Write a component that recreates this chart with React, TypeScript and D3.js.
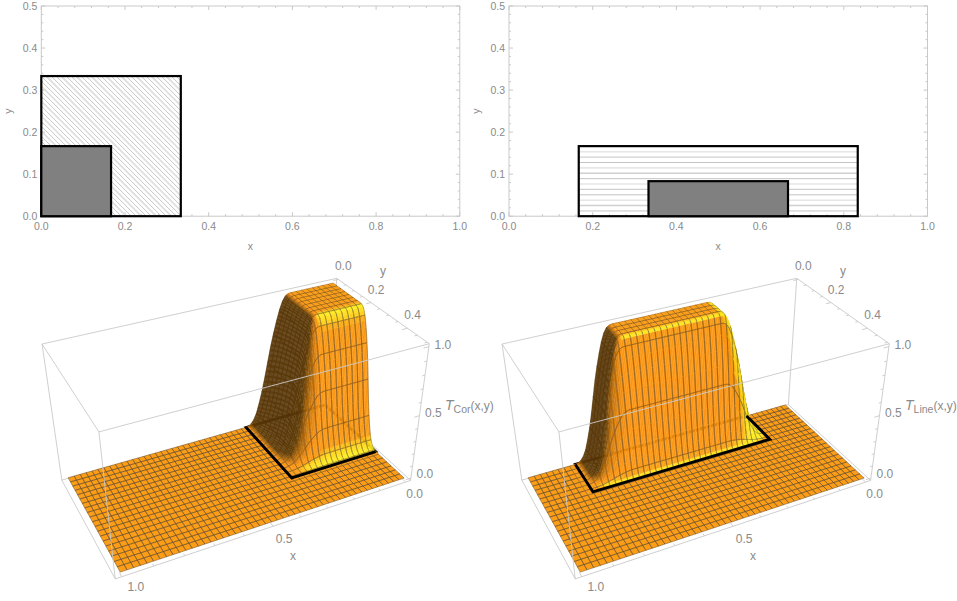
import React, { useMemo } from "react";
import * as d3 from "d3";

// ---- data ----
const xTicks2D = [0, 0.2, 0.4, 0.6, 0.8, 1];
const yTicks2D = [0, 0.1, 0.2, 0.3, 0.4, 0.5];
const cornerOuter = { x: [0, 1 / 3], y: [0, 1 / 3] };
const cornerInner = { x: [0, 1 / 6], y: [0, 1 / 6] };
const lineOuter = { x: [1 / 6, 5 / 6], y: [0, 1 / 6] };
const lineInner = { x: [1 / 3, 2 / 3], y: [0, 1 / 12] };
// temperature fall-off across the ramp between source and outer rectangle (17 samples)
const falloff = [1, 0.998, 0.985, 0.95, 0.89, 0.81, 0.72, 0.62, 0.5, 0.38, 0.27, 0.18, 0.1, 0.05, 0.02, 0.005, 0];
const meshX = 48;
const meshY = 20;
const xTickLabels3D = [0, 0.5, 1];
const yTickLabels3D = [0, 0.2, 0.4];
const zTickLabels3D = [0, 0.5, 1];
const xr = [-0.02, 1.02];
const yr = [-0.01, 0.51];
const zr = [-0.02, 1.02];
// box corners on screen, used to calibrate the projection
const boxAnchors: [number, number, number, number, number][] = [
  [xr[1], yr[0], zr[1], 42, 344],
  [xr[1], yr[1], zr[1], 99, 432],
  [xr[0], yr[0], zr[1], 337, 278],
  [xr[0], yr[1], zr[1], 429, 344],
  [xr[1], yr[0], zr[0], 62, 480],
  [xr[1], yr[1], zr[0], 115, 579],
  [xr[0], yr[1], zr[0], 411, 480],
  [xr[0], yr[0], zr[0], 328, 405],
];
// shading lookup: light factor -> colour channel
const lightStops = [-0.6, 0, 0.3, 0.55, 0.65, 0.72, 0.82];
const redStops = [0.33, 0.38, 0.76, 0.99, 0.975, 1, 1];
const greenStops = [0.2, 0.24, 0.45, 0.585, 0.6, 0.82, 0.92];
const blueStops = [0.03, 0.03, 0.05, 0.07, 0.07, 0.1, 0.13];

const FONT = "'Liberation Sans', Arial, sans-serif";
const GRAY = "#8a8a8a";
const FRAME = "#c9c9c9";

function solveProjection() {
  const S = 400;
  const A: number[][] = [];
  const b: number[] = [];
  for (const [X, Y, Z, u0, v0] of boxAnchors) {
    const u = u0 / S, v = v0 / S;
    A.push([X, Y, Z, 1, 0, 0, 0, 0, -u * X, -u * Y, -u * Z]); b.push(u);
    A.push([0, 0, 0, 0, X, Y, Z, 1, -v * X, -v * Y, -v * Z]); b.push(v);
  }
  const n = 11;
  const M = d3.range(n).map((i) => {
    const row = d3.range(n).map((j) => d3.sum(A, (r) => r[i] * r[j]));
    row.push(d3.sum(A, (r, k) => r[i] * b[k]));
    return row;
  });
  for (let c = 0; c < n; c++) {
    let p = c;
    for (let r = c + 1; r < n; r++) if (Math.abs(M[r][c]) > Math.abs(M[p][c])) p = r;
    [M[c], M[p]] = [M[p], M[c]];
    for (let r = 0; r < n; r++) {
      if (r === c) continue;
      const f = M[r][c] / M[c][c];
      for (let k = c; k <= n; k++) M[r][k] -= f * M[c][k];
    }
  }
  const p = M.map((r, i) => r[n] / r[i]);
  return { p, S };
}
const PROJ = solveProjection();
const wOf = (x: number, y: number, z: number) => PROJ.p[8] * x + PROJ.p[9] * y + PROJ.p[10] * z + 1;
const project = (x: number, y: number, z: number): [number, number] => {
  const { p, S } = PROJ;
  const w = wOf(x, y, z);
  return [(S * (p[0] * x + p[1] * y + p[2] * z + p[3])) / w, (S * (p[4] * x + p[5] * y + p[6] * z + p[7])) / w];
};

const fall = d3.scaleLinear<number>().domain(d3.range(falloff.length).map((i) => i / (falloff.length - 1))).range(falloff).clamp(true);
const cornerT = (x: number, y: number) => fall((x - 1 / 6) * 6) * fall((y - 1 / 6) * 6);
const lineT = (x: number, y: number) => fall((Math.abs(x - 0.5) - 1 / 6) * 6) * fall((y - 1 / 12) * 12);

const rCh = d3.scaleLinear<number>().domain(lightStops).range(redStops).clamp(true);
const gCh = d3.scaleLinear<number>().domain(lightStops).range(greenStops).clamp(true);
const bCh = d3.scaleLinear<number>().domain(lightStops).range(blueStops).clamp(true);
const inkMix = d3.scaleLinear().domain([0.15, 0.52]).range([0.08, 0.68]).clamp(true);

function light(T: (x: number, y: number) => number, x: number, y: number) {
  const e = 0.004, zs = 0.55;
  const dx = (zs * (T(x + e, y) - T(x - e, y))) / (2 * e);
  const dy = (zs * (T(x, y + e) - T(x, y - e))) / (2 * e);
  const L = Math.hypot(dx, dy, 1);
  return (0.48 * dx) / L + (-0.5 * dy) / L + 0.65 / L;
}
function shade(T: (x: number, y: number) => number, x: number, y: number) {
  const d = light(T, x, y);
  return `rgb(${Math.round(rCh(d) * 255)},${Math.round(gCh(d) * 255)},${Math.round(bCh(d) * 255)})`;
}

const line2 = d3.line<[number, number]>();

type Item = { d: string; fill?: string; stroke?: string; depth: number };

function buildSurface(T: (x: number, y: number) => number) {
  const SUB = 4;
  const floor: string[] = [];
  const floorMesh: string[] = [];
  const items: Item[] = [];
  const P = (x: number, y: number) => project(x, y, T(x, y));
  const sx = 1 / meshX, sy = 0.5 / meshY;
  const poly = (a: number, b: number, c: number, e: number) =>
    line2([P(a, b), P(c, b), P(c, e), P(a, e)])! + "Z";
  const seg = (pts: [number, number][]) => line2(pts)!;
  const ink = (x: number, y: number) =>
    d3.interpolateRgb(shade(T, x, y), "#333")(inkMix(light(T, x, y)));

  for (let i = 0; i < meshX; i++) {
    for (let j = 0; j < meshY; j++) {
      const x0 = i * sx, y0 = j * sy;
      const flat = d3.range(SUB + 1).every((a) =>
        d3.range(SUB + 1).every((b) => T(x0 + (a * sx) / SUB, y0 + (b * sy) / SUB) === 0)
      );
      if (flat) {
        floor.push(poly(x0, y0, x0 + sx, y0 + sy));
        floorMesh.push(seg([P(x0, y0), P(x0 + sx, y0), P(x0 + sx, y0 + sy), P(x0, y0 + sy), P(x0, y0)]));
        continue;
      }
      const hx = sx / SUB, hy = sy / SUB;
      for (let a = 0; a < SUB; a++) {
        for (let b = 0; b < SUB; b++) {
          const qx = x0 + a * hx, qy = y0 + b * hy;
          const cx = qx + hx / 2, cy = qy + hy / 2;
          items.push({ d: poly(qx, qy, qx + hx, qy + hy), fill: shade(T, cx, cy), depth: wOf(cx, cy, T(cx, cy)) });
        }
      }
      // mesh edges of this cell, painted just after the facets that touch them
      for (let a = 0; a < SUB; a++) {
        const qx = x0 + a * hx, cx = qx + hx / 2;
        for (const yy of [y0, y0 + sy]) {
          items.push({
            d: seg([P(qx, yy), P(qx + hx, yy)]),
            stroke: ink(cx, yy),
            depth: Math.min(wOf(cx, yy - hy / 2, T(cx, yy - hy / 2)), wOf(cx, yy + hy / 2, T(cx, yy + hy / 2))) - 1e-7,
          });
        }
        const qy = y0 + a * hy, cy = qy + hy / 2;
        for (const xx of [x0, x0 + sx]) {
          items.push({
            d: seg([P(xx, qy), P(xx, qy + hy)]),
            stroke: ink(xx, cy),
            depth: Math.min(wOf(xx - hx / 2, cy, T(xx - hx / 2, cy)), wOf(xx + hx / 2, cy, T(xx + hx / 2, cy))) - 1e-7,
          });
        }
      }
    }
  }
  items.sort((a, b) => b.depth - a.depth);
  return { floor, floorMesh, items };
}

function Panel2D({ ox, outer, inner, hatch, clipId }: any) {
  const x = d3.scaleLinear().domain([0, 1]).range([ox, ox + 418.5]);
  const y = d3.scaleLinear().domain([0, 0.5]).range([216.2, 6]);
  const xMinor = d3.range(0, 1.0001, 0.04);
  const yMinor = d3.range(0, 0.5001, 0.02);
  const ow = x(outer.x[1]) - x(outer.x[0]);
  const oh = y(outer.y[0]) - y(outer.y[1]);
  const hatchLines: { a: [number, number]; b: [number, number]; k: number }[] = [];
  if (hatch === "diag") {
    d3.range(-oh, ow, 5).forEach((c, k) => {
      hatchLines.push({
        a: [x(outer.x[0]) + c, y(outer.y[1])],
        b: [x(outer.x[0]) + c + oh, y(outer.y[0])],
        k,
      });
    });
  } else {
    d3.range(0.0125, outer.y[1], 0.0128).forEach((v, k) => {
      hatchLines.push({ a: [x(outer.x[0]), y(v)], b: [x(outer.x[1]), y(v)], k });
    });
  }
  const hatchColor = hatch === "diag" ? ["#b8b8b8", "#b8b8b8", "#dedede"] : ["#c4c4c4", "#d0d0d0", "#e6e6e6"];
  const hatchWidth = hatch === "diag" ? [0.8, 0.8, 1.7] : [1, 1.4, 1.6];
  return (
    <g>
      <clipPath id={clipId}>
        <rect x={x(outer.x[0])} y={y(outer.y[1])} width={ow} height={oh} />
      </clipPath>
      <g stroke={FRAME} strokeWidth={1} fill="none">
        <rect x={x(0)} y={y(0.5)} width={x(1) - x(0)} height={y(0) - y(0.5)} />
        {xMinor.map((v, i) => {
          const major = i % 5 === 0;
          const l = major ? 4 : 2;
          return <path key={i} d={`M${x(v)},${y(0)}v${-l}M${x(v)},${y(0.5)}v${l}`} />;
        })}
        {yMinor.map((v, i) => {
          const major = i % 5 === 0;
          const l = major ? 4 : 2;
          return <path key={i} d={`M${x(0)},${y(v)}h${l}M${x(1)},${y(v)}h${-l}`} />;
        })}
      </g>
      <g clipPath={`url(#${clipId})`}>
        {hatchLines.map((h) => (
          <path
            key={h.k}
            d={line2([h.a, h.b])!}
            stroke={hatchColor[h.k % 3]}
            strokeWidth={hatchWidth[h.k % 3]}
            fill="none"
          />
        ))}
      </g>
      <rect x={x(outer.x[0])} y={y(outer.y[1])} width={ow} height={oh} fill="none" stroke="#000" strokeWidth={2.2} />
      <rect
        x={x(inner.x[0])}
        y={y(inner.y[1])}
        width={x(inner.x[1]) - x(inner.x[0])}
        height={y(inner.y[0]) - y(inner.y[1])}
        fill="#808080"
        stroke="#000"
        strokeWidth={2.2}
      />
      <g fontFamily={FONT} fontSize={10.5} fill={GRAY}>
        {xTicks2D.map((v) => (
          <text key={v} x={x(v)} y={229.5} textAnchor="middle">{v.toFixed(1)}</text>
        ))}
        {yTicks2D.map((v) => (
          <text key={v} x={ox - 4} y={y(v) + 3.6} textAnchor="end">{v.toFixed(1)}</text>
        ))}
        <text x={ox + 209} y={249.5} textAnchor="middle">x</text>
        <text transform={`translate(${ox - 29},111) rotate(-90)`} textAnchor="middle">y</text>
      </g>
    </g>
  );
}

function Panel3D({ dx, T, outer, label, sub, nearSideOpen }: any) {
  const s = useMemo(() => buildSurface(T), [T]);
  const B = (a: number, b: number, c: number) => project(xr[a], yr[b], zr[c]);
  const backEdges = [
    [B(1, 0, 0), B(1, 1, 0)], [B(1, 1, 0), B(0, 1, 0)], [B(0, 1, 0), B(0, 0, 0)], [B(0, 0, 0), B(1, 0, 0)],
    [B(1, 0, 0), B(1, 0, 1)], [B(0, 0, 0), B(0, 0, 1)], [B(1, 0, 1), B(0, 0, 1)],
  ] as [number, number][][];
  const frontEdges = [
    [B(1, 0, 1), B(1, 1, 1)], [B(1, 1, 1), B(0, 1, 1)], [B(0, 1, 1), B(0, 0, 1)],
    [B(1, 1, 0), B(1, 1, 1)], [B(0, 1, 0), B(0, 1, 1)],
  ] as [number, number][][];
  const ticks: [number, number][][] = [];
  d3.range(0, 1.001, 0.1).forEach((v, i) => {
    const l = i % 5 === 0 ? 0.02 : 0.01;
    ticks.push([project(v, yr[1], zr[0]), project(v, yr[1] - l, zr[0])]);
  });
  d3.range(0, 0.501, 0.05).forEach((v, i) => {
    const l = i % 4 === 0 ? 0.02 : 0.01;
    ticks.push([project(xr[0], v, zr[1]), project(xr[0] + l, v, zr[1])]);
  });
  d3.range(0, 1.001, 0.1).forEach((v, i) => {
    const l = i % 5 === 0 ? 0.02 : 0.01;
    ticks.push([project(xr[0], yr[1], v), project(xr[0] + l, yr[1], v)]);
  });
  const c00 = project(outer.x[0], outer.y[0], 0);
  const c10 = project(outer.x[1], outer.y[0], 0);
  const c11 = project(outer.x[1], outer.y[1], 0);
  const c01 = project(outer.x[0], outer.y[1], 0);
  const nearSides = nearSideOpen ? [c10, c11, c01, c00] : [c10, c11, c01];
  return (
    <g transform={`translate(${dx},0)`}>
      <g stroke={FRAME} strokeWidth={0.9} fill="none">
        {backEdges.map((e, i) => <path key={i} d={line2(e)!} />)}
      </g>
      <path d={s.floor.join("")} fill="#fb9d16" stroke="#fb9d16" strokeWidth={0.3} />
      <path d={s.floorMesh.join("")} fill="none" stroke="#55493a" strokeOpacity={0.72} strokeWidth={0.62} />
      <path d={line2([c00, c10, c11, c01])! + "Z"} fill="none" stroke="#000" strokeWidth={2.8} />
      {s.items.map((it, i) =>
        it.fill ? (
          <path key={i} d={it.d} fill={it.fill} stroke={it.fill} strokeWidth={0.35} />
        ) : (
          <path key={i} d={it.d} fill="none" stroke={it.stroke} strokeOpacity={0.75} strokeWidth={0.65} />
        )
      )}
      <path d={line2(nearSides)!} fill="none" stroke="#000" strokeWidth={2.8} strokeLinejoin="miter" />
      <g stroke={FRAME} strokeWidth={0.9} fill="none">
        {frontEdges.map((e, i) => <path key={i} d={line2(e)!} />)}
        {ticks.map((e, i) => <path key={i} d={line2(e)!} />)}
      </g>
      <g fontFamily={FONT} fontSize={12} fill={GRAY} textAnchor="middle">
        {xTickLabels3D.map((v, i) => {
          const [a, b] = project(v, yr[1], zr[0]);
          return <text key={v} x={a + [9, 11, 14][i]} y={b + [16, 17, 14][i]}>{v.toFixed(1)}</text>;
        })}
        {yTickLabels3D.map((v) => {
          const [a, b] = project(xr[0], v, zr[1]);
          return <text key={v} x={a + 5} y={b - 9}>{v.toFixed(1)}</text>;
        })}
        {zTickLabels3D.map((v, i) => {
          const [a, b] = project(xr[0], yr[1], v);
          return <text key={v} x={a + 14} y={b + [0, 1, 2][i]}>{v.toFixed(1)}</text>;
        })}
        <text x={293} y={560}>x</text>
        <text x={383} y={275}>y</text>
        <text x={445} y={410} textAnchor="start" fontSize={14}>
          <tspan fontStyle="italic">{label}</tspan>
          <tspan fontSize={10.5} dy={2.5}>{sub}</tspan>
          <tspan dy={-2.5} fontSize={12}>(x,y)</tspan>
        </text>
      </g>
    </g>
  );
}

export default function App() {
  return (
    <svg
      width={957}
      height={601}
      viewBox="0 0 957 601"
      style={{ position: "absolute", left: 0, top: 0, display: "block", background: "#fff" }}
    >
      <Panel2D ox={41.3} outer={cornerOuter} inner={cornerInner} hatch="diag" clipId="c1" />
      <Panel2D ox={509} outer={lineOuter} inner={lineInner} hatch="horiz" clipId="c2" />
      <Panel3D dx={0} T={cornerT} outer={cornerOuter} label="T" sub="Cor" nearSideOpen={false} />
      <Panel3D dx={460} T={lineT} outer={lineOuter} label="T" sub="Line" nearSideOpen={true} />
    </svg>
  );
}
